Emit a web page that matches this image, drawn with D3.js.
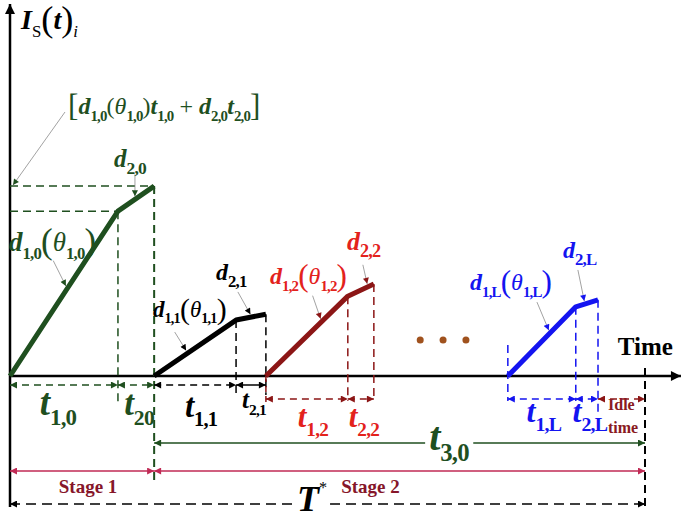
<!DOCTYPE html>
<html>
<head>
<meta charset="utf-8">
<script src="https://cdn.jsdelivr.net/npm/d3@7"></script>
<style>
  body { margin: 0; background: #fff; }
  svg { display: block; }
</style>
</head>
<body>
<script>
// time in % of T*, current in % of the axis height
const segIds = ['0', '1', '2', 'L']
const segStart = [0, 22.7, 40.3, 78.4]
const segKnee = [17.0, 35.6, 53.2, 89.1]
const segEnd = [22.7, 40.3, 57.3, 92.6]
const kneeCurrent = [44.8, 15.2, 21.7, 18.8]
const endCurrent = [51.6, 16.8, 25.0, 20.7]
const dotTimes = [64.6, 68.2, 71.8]
const dotCurrent = 9.8
const tStar = 100
const timeMax = 104.4
const stageBounds = [0, 22.7, 100]
const stageLabels = ['Stage 1', 'Stage 2']
const idleLabel = ['Idle', 'time']

const width = 684
const height = 523

const green = '#1f4f1f'
const darkRed = '#8c1616'
const red = '#e3221c'
const blue = '#1414f0'
const segColor = [green, '#000', darkRed, blue]
const textColor = [green, '#000', red, blue]

const x = d3.scaleLinear().domain([0, tStar]).range([10, 645])
const y = d3.scaleLinear().domain([0, 100]).range([376, 8])

const svg = d3
  .select('body')
  .append('svg')
  .attr('width', width)
  .attr('height', height)
  .style('font-family', '"Liberation Serif"')
const defs = svg.append('defs')

function marker(id, color, w, h) {
  defs
    .append('marker')
    .attr('id', id)
    .attr('viewBox', '0 0 10 10')
    .attr('refX', 10)
    .attr('refY', 5)
    .attr('markerUnits', 'userSpaceOnUse')
    .attr('markerWidth', w)
    .attr('markerHeight', h)
    .attr('orient', 'auto-start-reverse')
    .append('path')
    .attr('d', 'M0,0L10,5L0,10z')
    .attr('fill', color)
  return `url(#${id})`
}

const colorsUsed = { green, black: '#000', darkRed, blue, stage: '#c02a55' }
const mk = {}
Object.entries(colorsUsed).forEach(([k, c]) => (mk[k] = marker('m-' + k, c, 9, 7)))
const mkAxis = marker('m-axis', '#000', 13, 10)
const mkLead = {}
segColor.forEach((c, i) => (mkLead[i] = marker('ml-' + i, c, 8, 6)))

function line(g, x1, y1, x2, y2, color, w, dash) {
  return g
    .append('line')
    .attr('x1', x1)
    .attr('y1', y1)
    .attr('x2', x2)
    .attr('y2', y2)
    .attr('stroke', color)
    .attr('stroke-width', w)
    .attr('stroke-dasharray', dash || null)
}

function arrow2(g, x1, x2, yy, color, markerUrl, dash, w = 1.5) {
  line(g, x1, yy, x2, yy, color, w, dash).attr('marker-start', markerUrl).attr('marker-end', markerUrl)
}

// math text: tokens are [text, kind]
function mathText(g, px, py, tokens, size, color, anchor = 'start', subRatio = 0.62) {
  const t = g.append('text').attr('x', px).attr('y', py).attr('fill', color).attr('text-anchor', anchor)
  let shift = 0
  tokens.forEach(([s, kind]) => {
    const ts = t.append('tspan').text(s)
    let fs = size
    let target = 0
    if (kind === 'bi') ts.attr('font-weight', 'bold').attr('font-style', 'italic')
    if (kind === 'i') ts.attr('font-style', 'italic')
    if (kind === 'p') {
      fs = size * 1.3
      target = size * 0.08
    }
    if (kind === 'sub' || kind === 'isub' || kind === 'rsub') {
      fs = size * subRatio
      target = size * 0.28
      if (kind === 'sub') ts.attr('font-weight', 'bold').attr('letter-spacing', -0.8)
      if (kind === 'isub') ts.attr('font-style', 'italic')
    }
    if (kind === 'sup') {
      fs = size * 0.45
      target = -size * 0.5
    }
    ts.attr('font-size', fs).attr('dy', target - shift)
    shift = target
  })
  return t
}

const base = svg.append('g')

// axes
line(base, x(0), 507, x(0), 4, '#000', 2.5).attr('marker-end', mkAxis)
line(base, x(0), y(0), x(timeMax) + 8, y(0), '#000', 2.5).attr('marker-end', mkAxis)
svg
  .append('text')
  .attr('x', x(timeMax))
  .attr('y', y(0) - 21)
  .attr('text-anchor', 'end')
  .attr('font-weight', 'bold')
  .attr('font-size', 25)
  .text('Time')

mathText(
  svg,
  21,
  29,
  [
    ['I', 'bi'],
    ['S', 'rsub'],
    ['(', 'p'],
    ['t', 'bi'],
    [')', 'p'],
    ['i', 'isub'],
  ],
  28,
  '#000',
  'start',
  0.6
)

// guide lines
const guides = svg.append('g').attr('fill', 'none')
const dash = '8,5'
line(guides, x(0), y(endCurrent[0]), x(segEnd[0]), y(endCurrent[0]), green, 1.5, dash)
line(guides, x(0), y(kneeCurrent[0]), x(segKnee[0]), y(kneeCurrent[0]), green, 1.5, dash)

const rowA = y(0) + 9
const rowB = y(0) + 23
const rowY = [rowA, rowA, rowB, rowB]
// vertical extents below the curve for knee and end drop lines
const kneeBottom = [rowA + 17, rowA + 12, rowB + 2, rowB + 2]
const endBottom = [y(0) + 106, rowA + 10, rowB + 2, rowB + 17]

segIds.forEach((id, i) => {
  line(guides, x(segKnee[i]), y(kneeCurrent[i]), x(segKnee[i]), kneeBottom[i], segColor[i], 1.5, dash)
  line(guides, x(segEnd[i]), y(endCurrent[i]), x(segEnd[i]), endBottom[i], segColor[i], i === 0 ? 2 : 1.5, dash)
})
line(guides, x(segStart[2]), y(0), x(segStart[2]), rowB + 7, darkRed, 1.5, '6,4')
line(guides, x(segStart[3]), y(0) - 31, x(segStart[3]), rowB + 2, blue, 1.5, dash)
line(guides, x(tStar), y(0) - 8, x(tStar), 508, '#000', 2, dash)

// current profiles
const path = d3.line()
svg
  .append('g')
  .selectAll('path')
  .data(segIds)
  .join('path')
  .attr('fill', 'none')
  .attr('stroke', (d, i) => segColor[i])
  .attr('stroke-width', 5)
  .attr('stroke-linejoin', 'round')
  .attr('d', (d, i) =>
    path([
      [x(segStart[i]), y(0)],
      [x(segKnee[i]), y(kneeCurrent[i])],
      [x(segEnd[i]), y(endCurrent[i])],
    ])
  )

svg
  .append('g')
  .selectAll('circle')
  .data(dotTimes)
  .join('circle')
  .attr('cx', d => x(d))
  .attr('cy', y(dotCurrent))
  .attr('r', 3.5)
  .attr('fill', '#a0521e')

// duration arrows
const arrows = svg.append('g')
const rowMk = [mk.green, mk.black, mk.darkRed, mk.blue]
segIds.forEach((id, i) => {
  arrow2(arrows, x(segStart[i]), x(segKnee[i]), rowY[i], segColor[i], rowMk[i], '7,5')
  arrow2(arrows, x(segKnee[i]), x(segEnd[i]), rowY[i], segColor[i], rowMk[i], i === 1 ? null : '7,5')
})
arrow2(arrows, x(segEnd[3]), x(tStar), rowB, darkRed, mk.darkRed, '7,5')

// duration labels
const t1Size = [37, 33, 31, 32]
const t2Size = [35, 25, 31, 32]
const t1Base = [415, 417, 427, 422]
const t2Base = [415, 408, 427, 422]
const t2Sub = ['20', '2,1', '2,2', '2,L']
segIds.forEach((id, i) => {
  mathText(
    svg,
    (x(segStart[i]) + x(segKnee[i])) / 2 + (i === 0 ? -6 : i === 3 ? 2 : 6),
    t1Base[i],
    [
      ['t', 'bi'],
      ['1,' + id, 'sub'],
    ],
    t1Size[i],
    textColor[i],
    'middle'
  )
  mathText(
    svg,
    (x(segKnee[i]) + x(segEnd[i])) / 2 + 3,
    t2Base[i],
    [
      ['t', 'bi'],
      [t2Sub[i], 'sub'],
    ],
    t2Size[i],
    textColor[i],
    'middle'
  )
})

const idle = svg.append('text').attr('font-weight', 'bold').attr('font-size', 16).attr('fill', '#8a1a22')
idleLabel.forEach((s, k) =>
  idle
    .append('tspan')
    .attr('x', x(segEnd[3]) + 10)
    .attr('y', rowB + 11 + k * 23)
    .text(s)
)

// t3,0 span
const t30Y = y(0) + 67
line(svg, x(stageBounds[1]), t30Y, x(tStar), t30Y, green, 1.5).attr('marker-start', mk.green).attr('marker-end', mk.green)
function knockout(t, pad) {
  const b = t.node().getBBox()
  svg
    .insert('rect', () => t.node())
    .attr('x', b.x - pad)
    .attr('y', b.y)
    .attr('width', b.width + 2 * pad)
    .attr('height', b.height)
    .attr('fill', '#fff')
}
const t30 = mathText(
  svg,
  449,
  450,
  [
    ['t', 'bi'],
    ['3,0', 'sub'],
  ],
  40,
  green,
  'middle'
)
knockout(t30, 4)

// stages
const stageY = y(0) + 95
d3.pairs(stageBounds).forEach(([a, b], k) => {
  arrow2(svg, x(a), x(b), stageY, colorsUsed.stage, mk.stage, null, 1.5)
  svg
    .append('text')
    .attr('x', k === 0 ? (x(a) + x(b)) / 2 + 6 : x(a) + 187)
    .attr('y', stageY + 22)
    .attr('text-anchor', k === 0 ? 'middle' : 'start')
    .attr('font-weight', 'bold')
    .attr('font-size', 19)
    .attr('fill', '#86162a')
    .text(stageLabels[k])
})

// T*
const tStarY = y(0) + 128
arrow2(svg, x(0), x(tStar), tStarY, '#000', mk.black, '10,6', 1.5)
const tLab = mathText(
  svg,
  312,
  511,
  [
    ['T', 'bi'],
    ['*', 'sup'],
  ],
  36,
  '#000',
  'middle'
)
knockout(tLab, 3)

// rate labels and leaders
const d1Size = [27, 23, 24, 24]
const d1Pos = [
  [9, 251],
  [153, 317],
  [270, 284],
  [470, 290],
]
const d1Frac = [0.53, 0.41, 0.68, 0.62]
const d1Off = [
  [-14, -28],
  [-13, -21],
  [-9, -26],
  [-13, -31],
]
const d2Size = [25, 24, 26, 24]
const d2Pos = [
  [114, 167],
  [216, 280],
  [347, 250],
  [563, 258],
]
const d2Frac = [0.47, 0.53, 0.77, 0.41]
const d2Off = [
  [0, -25],
  [-14, -25],
  [-5, -22],
  [-7, -34],
]

const leaders = svg.append('g')
function leader(tx, ty, off, i) {
  const len = Math.hypot(off[0], off[1])
  const ux = off[0] / len
  const uy = off[1] / len
  line(leaders, tx + off[0], ty + off[1], tx + ux * 3, ty + uy * 3, '#8a8a8a', 0.8).attr('marker-end', mkLead[i])
}

segIds.forEach((id, i) => {
  const f1 = d1Frac[i]
  const ax = x(segStart[i] + f1 * (segKnee[i] - segStart[i]))
  const ay = y(f1 * kneeCurrent[i])
  leader(ax, ay, d1Off[i], i)
  const f2 = d2Frac[i]
  const bx = x(segKnee[i] + f2 * (segEnd[i] - segKnee[i]))
  const by = y(kneeCurrent[i] + f2 * (endCurrent[i] - kneeCurrent[i]))
  leader(bx, by, d2Off[i], i)

  mathText(
    svg,
    d1Pos[i][0],
    d1Pos[i][1],
    [
      ['d', 'bi'],
      ['1,' + id, 'sub'],
      ['(', 'p'],
      ['θ', 'i'],
      ['1,' + id, 'sub'],
      [')', 'p'],
    ],
    d1Size[i],
    textColor[i]
  )
  mathText(
    svg,
    d2Pos[i][0],
    d2Pos[i][1],
    [
      ['d', 'bi'],
      ['2,' + id, 'sub'],
    ],
    d2Size[i],
    textColor[i],
    'start',
    0.7
  )
})

// charge bracket
line(leaders, 65, 112, x(0) + 3, y(endCurrent[0]) - 1, '#8a8a8a', 0.8).attr('marker-end', mkLead[0])
mathText(
  svg,
  68,
  114,
  [
    ['[', 'p'],
    ['d', 'bi'],
    ['1,0', 'sub'],
    ['(', 'r'],
    ['θ', 'i'],
    ['1,0', 'sub'],
    [')', 'r'],
    ['t', 'bi'],
    ['1,0', 'sub'],
    [' + ', 'r'],
    ['d', 'bi'],
    ['2,0', 'sub'],
    ['t', 'bi'],
    ['2,0', 'sub'],
    [']', 'p'],
  ],
  24,
  green
)
</script>
</body>
</html>
